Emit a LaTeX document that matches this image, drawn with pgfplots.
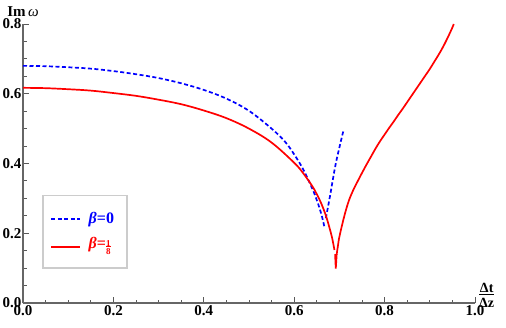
\documentclass[border=0pt]{standalone}
\usepackage{pgfplots}
\pgfplotsset{compat=1.18}
\usepackage{fontspec}
\setmainfont{Liberation Serif}
\begin{document}
\begin{tikzpicture}
\path[use as bounding box] (0,0) rectangle (506pt,327pt);
\begin{axis}[
  at={(23pt,24pt)}, anchor=south west,
  scale only axis, width=452pt, height=279pt,
  xmin=0, xmax=1, ymin=0, ymax=0.8,
  axis lines=left, axis line style={gray!80!black, line width=1.2pt, -},
  clip=false,
  xtick={0,0.2,...,1.0}, ytick={0,0.2,...,0.8},
  minor x tick num=3, minor y tick num=3,
  tick align=inside,
  major tick length=6pt, minor tick length=3.5pt,
  tick style={gray!70!black, line width=0.9pt},
  /pgf/number format/assume math mode=true,
  /pgf/number format/fixed, /pgf/number format/fixed zerofill, /pgf/number format/precision=1,
  ticklabel style={font=\fontsize{15}{15}\selectfont\bfseries},
  xticklabel style={yshift=1pt},
  yticklabel style={xshift=2pt},
]
\addplot[blue, line width=1.7pt, dash pattern=on 4pt off 2.5pt, smooth, tension=0.6] coordinates {
(0,0.680)(0.05,0.679)(0.1,0.676)(0.15,0.672)(0.2,0.665)(0.25,0.656)(0.3,0.645)(0.35,0.630)(0.4,0.611)(0.45,0.586)(0.5,0.551)(0.55,0.500)(0.58,0.462)(0.6,0.426)(0.62,0.383)(0.64,0.328)(0.65,0.295)(0.66,0.255)(0.667,0.217)
};
\addplot[blue, line width=1.7pt, dash pattern=on 4pt off 2.5pt, smooth, tension=0.5] coordinates {
(0.670,0.243)(0.679,0.305)(0.692,0.40)(0.709,0.495)
};
\addplot[red, line width=1.7pt, smooth, tension=0.6] coordinates {
(0,0.617)(0.05,0.616)(0.1,0.613)(0.15,0.609)(0.2,0.602)(0.25,0.594)(0.3,0.583)(0.35,0.570)(0.4,0.552)(0.45,0.530)(0.5,0.500)(0.55,0.460)(0.6,0.402)(0.62,0.372)(0.64,0.335)(0.65,0.312)(0.66,0.285)(0.67,0.251)(0.678,0.216)(0.684,0.186)(0.689,0.152)
};
\addplot[red, line width=1.7pt] coordinates {
(0.6905,0.14)(0.692,0.099)(0.694,0.14)
};
\addplot[red, line width=1.7pt, smooth, tension=0.6] coordinates {
(0.694,0.14)(0.697,0.166)(0.70,0.19)(0.71,0.245)(0.72,0.29)(0.73,0.322)(0.74,0.348)(0.75,0.373)(0.76,0.397)(0.77,0.42)(0.78,0.443)(0.79,0.464)(0.80,0.483)(0.81,0.502)(0.82,0.52)(0.83,0.539)(0.84,0.557)(0.85,0.576)(0.86,0.595)(0.87,0.614)(0.88,0.633)(0.89,0.652)(0.90,0.671)(0.91,0.692)(0.92,0.713)(0.93,0.736)(0.94,0.762)(0.95,0.79)(0.953,0.8)
};
% axis labels
\node[anchor=south, inner sep=0pt, font=\fontsize{15}{15}\selectfont] at (rel axis cs:0,1) [yshift=7pt] {\textbf{Im}\,\textit{ω}};
\node[anchor=west, inner sep=0pt, font=\fontsize{14}{14}\selectfont\bfseries] at (rel axis cs:1,0) [xshift=4pt, yshift=6pt]
 {\begin{tabular}{@{}c@{}}Δt\\[-2pt]\hline\rule{0pt}{13pt}Δz\end{tabular}};
% legend
\draw[gray!40, line width=1.5pt, fill=white] (rel axis cs:0.044,0.385) rectangle (rel axis cs:0.230,0.125);
\draw[blue, line width=1.7pt, dash pattern=on 4pt off 2.5pt] (rel axis cs:0.063,0.30) -- (rel axis cs:0.127,0.30);
\node[anchor=west, inner sep=0pt, blue, font=\fontsize{16}{16}\selectfont\bfseries] at (rel axis cs:0.145,0.30) {\textit{β}=0};
\draw[red, line width=1.7pt] (rel axis cs:0.063,0.20) -- (rel axis cs:0.127,0.20);
\node[anchor=west, inner sep=0pt, red, font=\fontsize{16}{16}\selectfont\bfseries] at (rel axis cs:0.145,0.20) {\textit{β}=\raisebox{-0.35ex}{\fontsize{9}{9}\selectfont\begin{tabular}{@{}c@{}}1\\[-3pt]\hline\rule{0pt}{8pt}8\end{tabular}}};
\end{axis}
\end{tikzpicture}
\end{document}
